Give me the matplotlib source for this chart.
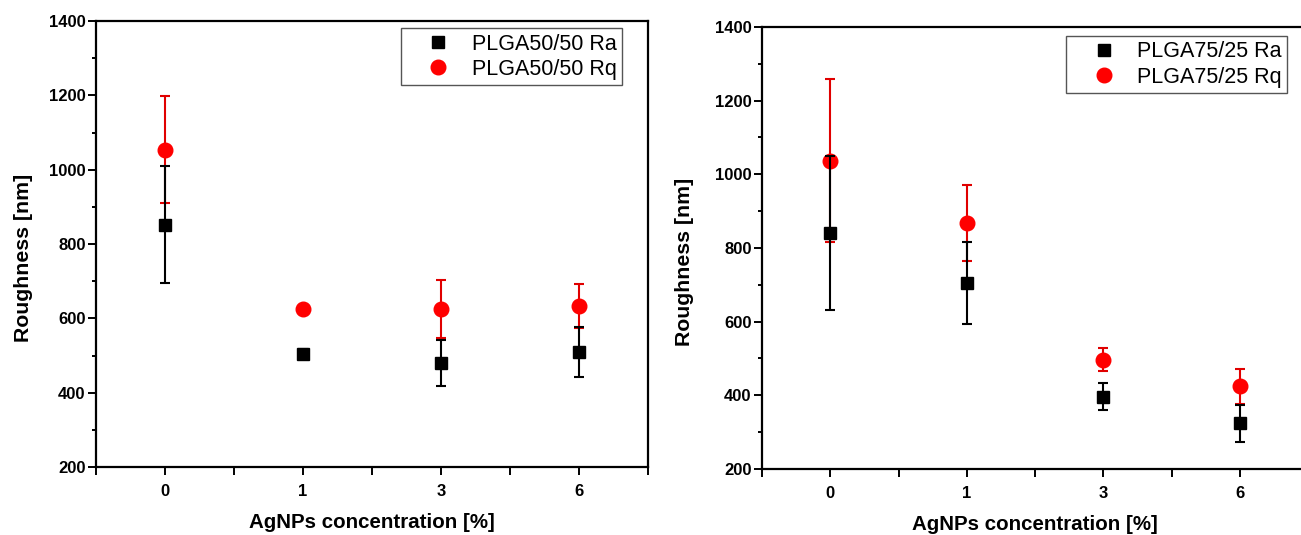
import matplotlib
matplotlib.use("Agg")
import matplotlib.pyplot as plt
from matplotlib.ticker import MultipleLocator, FixedLocator

plt.rcParams['font.family'] = ['Liberation Sans', 'DejaVu Sans']

categories = ["0", "1", "3", "6"]

# Left panel: PLGA50/50
ra_50 = [852, 505, 481, 509]
ra_50_err = [157, 12, 62, 68]
rq_50 = [1054, 625, 625, 634]
rq_50_err = [143, 8, 79, 59]

# Right panel: PLGA75/25
ra_75 = [842, 706, 396, 324]
ra_75_err = [209, 111, 37, 50]
rq_75 = [1037, 867, 497, 424]
rq_75_err = [221, 103, 32, 48]

fig = plt.figure(figsize=(13.01, 5.35), dpi=100)
ax1 = fig.add_axes([96/1301, 1-467/535, 552/1301, 446/535])
ax2 = fig.add_axes([762/1301, 1-469/535, 546/1301, 442/535])

def draw(ax, ra, ra_err, rq, rq_err, name, legend_anchor, ylabel_xy):
    x = list(range(len(categories)))
    rq_h = ax.errorbar(x, rq, yerr=rq_err, fmt='o', color='#ff0000', ecolor='#e00000',
                       markersize=10.5, elinewidth=1.5, capsize=3.6, capthick=1.5, zorder=3)
    ra_h = ax.errorbar(x, ra, yerr=ra_err, fmt='s', color='black', ecolor='black',
                       markersize=8.8, elinewidth=1.5, capsize=3.6, capthick=1.5, zorder=4)
    ax.set_xlim(-0.5, 3.5)
    ax.set_ylim(200, 1400)
    ax.xaxis.set_major_locator(FixedLocator(x))
    ax.set_xticklabels(categories)
    ax.xaxis.set_minor_locator(FixedLocator([-0.5, 0.5, 1.5, 2.5, 3.5]))
    ax.yaxis.set_major_locator(MultipleLocator(200))
    ax.yaxis.set_minor_locator(MultipleLocator(100))
    ax.tick_params(axis='x', which='both', direction='out', length=6, width=1.4, pad=6)
    ax.tick_params(axis='y', which='major', direction='out', length=5.5, width=1.4, pad=2)
    ax.tick_params(axis='y', which='minor', direction='out', length=3, width=1.4)
    for lab in ax.get_xticklabels() + ax.get_yticklabels():
        lab.set_fontweight('bold')
        lab.set_fontsize(12)
    for sp in ax.spines.values():
        sp.set_linewidth(1.6)
    ax.set_xlabel("AgNPs concentration [%]", fontsize=14.8, fontweight='bold', labelpad=10)
    ax.set_ylabel("Roughness [nm]", fontsize=15.3, fontweight='bold')
    ax.yaxis.set_label_coords(*ylabel_xy)
    leg = ax.legend([ra_h[0], rq_h[0]], [f"{name} Ra", f"{name} Rq"],
                    loc='upper right', bbox_to_anchor=legend_anchor,
                    fontsize=15.5, frameon=True, fancybox=False, framealpha=1,
                    edgecolor='#555555', borderpad=0.25, handletextpad=0.05,
                    labelspacing=0.2, handlelength=3.0, borderaxespad=0)
    leg.get_frame().set_linewidth(1.0)

draw(ax1, ra_50, ra_50_err, rq_50, rq_50_err, "PLGA50/50", (0.953, 0.984), (-0.114, 0.469))
draw(ax2, ra_75, ra_75_err, rq_75, rq_75_err, "PLGA75/25", (0.9615, 0.98), (-0.1245, 0.468))

fig.savefig("out.png", dpi=100)
